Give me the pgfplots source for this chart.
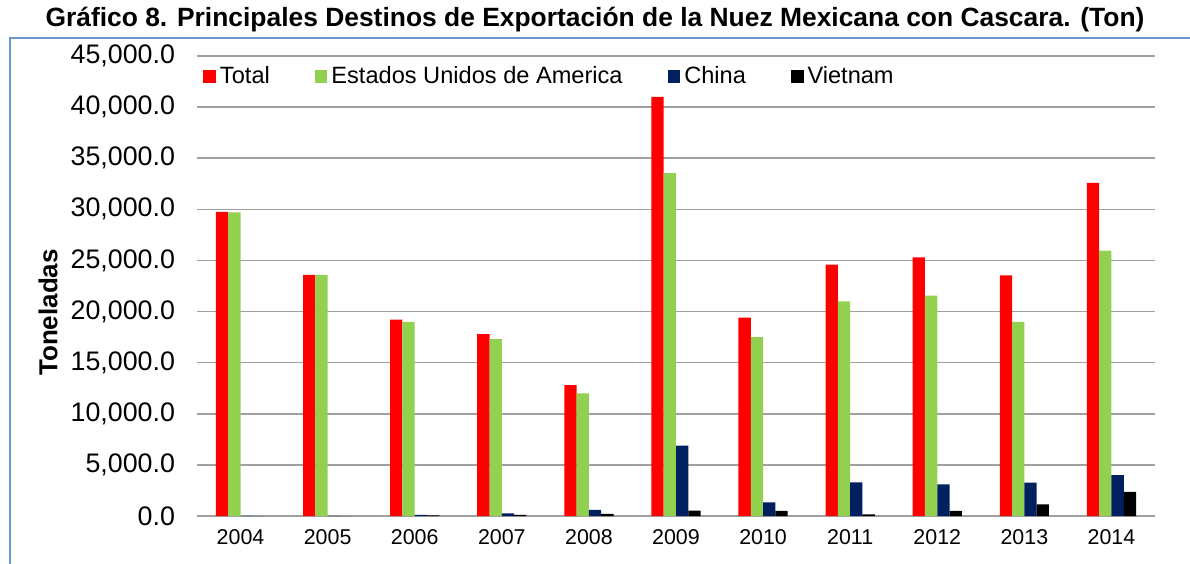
\documentclass[border=0pt]{standalone}
\usepackage{pgfplots}
\pgfplotsset{compat=1.18}
\usepackage{fontspec}
\setmainfont{Liberation Sans}

\definecolor{cTotal}{RGB}{255,0,0}
\definecolor{cUSA}{RGB}{146,208,80}
\definecolor{cChina}{RGB}{0,32,96}
\definecolor{cViet}{RGB}{0,0,0}
\definecolor{gridgray}{RGB}{160,160,160}
\definecolor{framebl}{RGB}{110,150,210}

\pgfplotsset{
  legsq/.style={legend image code/.code={\fill[##1] (0pt,-3.15pt) rectangle (6.3pt,3.15pt);}},
}

\begin{document}
\begin{tikzpicture}
\useasboundingbox (-98.5pt,-23.5pt) rectangle (496.5pt,258pt);

\begin{axis}[
  at={(0,0)}, anchor=south west,
  scale only axis,
  width=479pt, height=230pt,
  ybar=0pt, bar width=6.15pt,
  xmin=-0.5, xmax=10.5,
  ymin=0, ymax=45000,
  ytick={0,5000,...,45000},
  xtick={0,...,10},
  xticklabels={2004,2005,2006,2007,2008,2009,2010,2011,2012,2013,2014},
  scaled y ticks=false,
  yticklabel style={/pgf/number format/fixed, /pgf/number format/fixed zerofill,
    /pgf/number format/precision=1, /pgf/number format/1000 sep={,},
    font=\fontsize{13.4}{15}\selectfont, xshift=-7.5pt},
  xticklabel style={font=\fontsize{10.7}{12}\selectfont, yshift=-3pt},
  /pgf/number format/assume math mode=true,
  major tick length=0pt,
  axis x line*=bottom, axis y line*=left,
  x axis line style={draw=gridgray, line width=0.75pt, -},
  y axis line style={draw=none},
  ymajorgrids=true,
  major grid style={draw=gridgray, line width=0.75pt},
  xtick style={draw=none}, ytick style={draw=none},
  legend style={at={(0,1)}, anchor=north west, xshift=3pt, yshift=-3pt, draw=none, fill=none,
    font=\fontsize{11.8}{13}\selectfont, inner sep=0pt,
    /tikz/every even column/.append style={column sep=20.5pt}},
  legend columns=-1,
]
\addplot[fill=cTotal, draw=none, legsq] coordinates {
 (0,29750) (1,23600) (2,19200) (3,17800) (4,12800) (5,41000)
 (6,19400) (7,24600) (8,25300) (9,23550) (10,32600)};
\addplot[fill=cUSA, draw=none, legsq] coordinates {
 (0,29700) (1,23600) (2,19000) (3,17300) (4,12000) (5,33550)
 (6,17500) (7,21000) (8,21550) (9,19000) (10,25950)};
\addplot[fill=cChina, draw=none, legsq] coordinates {
 (0,10) (1,10) (2,100) (3,260) (4,590) (5,6880)
 (6,1340) (7,3290) (8,3100) (9,3260) (10,4010)};
\addplot[fill=cViet, draw=none, legsq] coordinates {
 (0,0) (1,0) (2,50) (3,100) (4,200) (5,520)
 (6,490) (7,150) (8,490) (9,1140) (10,2350)};
\legend{Total,Estados Unidos de America,China,Vietnam}
\end{axis}

\draw[framebl, line width=1pt] (-93.5pt,-30pt) -- (-93.5pt,239pt) -- (500pt,239pt);
\node[font=\bfseries\fontsize{13.2}{15}\selectfont] at (199pt,248pt)
  {Gráfico 8. Principales Destinos de Exportación de la Nuez Mexicana con Cascara. (Ton)};
\node[font=\bfseries\fontsize{13}{15}\selectfont, rotate=90] at (-74.5pt,101.75pt) {Toneladas};
\end{tikzpicture}
\end{document}
